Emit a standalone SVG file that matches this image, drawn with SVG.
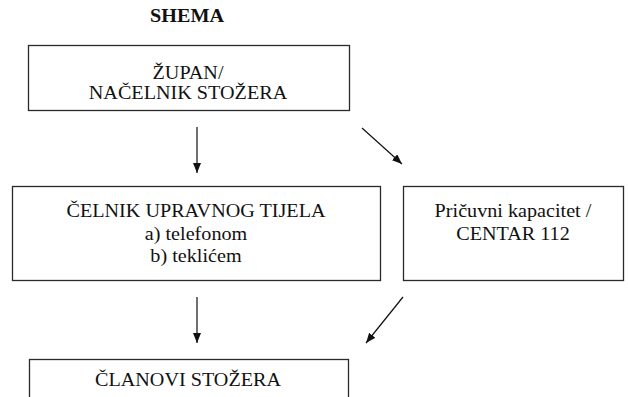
<svg xmlns="http://www.w3.org/2000/svg" width="628" height="397" viewBox="0 0 628 397">
  <style>
    .box { fill: #ffffff; stroke: #2a2a2a; stroke-width: 1.3; }
    .conn { stroke: #111; stroke-width: 1.2; fill: none; marker-end: url(#arrow); }
  </style>
  <defs>
    <marker id="arrow" markerUnits="userSpaceOnUse" markerWidth="11" markerHeight="9" refX="10" refY="4" orient="auto">
      <path d="M0,0 L10,4 L0,8 Z" fill="#111"/>
    </marker>
  </defs>
  <rect width="628" height="397" fill="#ffffff"/>

  <g font-family="Liberation Serif, Times New Roman, serif" font-size="18" fill="#111" text-anchor="middle">
    <text font-weight="bold" transform="translate(187,22) scale(1.12,1)">SHEMA</text>

    <g id="zupan">
      <rect class="box" x="28.5" y="45.5" width="321" height="65"/>
      <text transform="translate(188,79) scale(1.12,1)">ŽUPAN/</text>
      <text transform="translate(188,99) scale(1.12,1)">NAČELNIK STOŽERA</text>
    </g>

    <g id="celnik">
      <rect class="box" x="12.5" y="186.5" width="368" height="94"/>
      <text transform="translate(196,217) scale(1.12,1)">ČELNIK UPRAVNOG TIJELA</text>
      <text transform="translate(196,240) scale(1.12,1)">a) telefonom</text>
      <text transform="translate(196,262) scale(1.12,1)">b) teklićem</text>
    </g>

    <g id="pricuvni">
      <rect class="box" x="403.5" y="186.5" width="220" height="94"/>
      <text transform="translate(513,217) scale(1.12,1)">Pričuvni kapacitet /</text>
      <text transform="translate(513,240) scale(1.12,1)">CENTAR 112</text>
    </g>

    <g id="clanovi">
      <rect class="box" x="29.5" y="359.5" width="319" height="60"/>
      <text transform="translate(188,386) scale(1.12,1)">ČLANOVI STOŽERA</text>
    </g>
  </g>

  <g id="connectors">
    <line class="conn" x1="197" y1="127" x2="197" y2="173"/>
    <line class="conn" x1="362" y1="128" x2="402" y2="164"/>
    <line class="conn" x1="197" y1="297" x2="197" y2="343"/>
    <line class="conn" x1="403" y1="297" x2="366" y2="343"/>
  </g>
</svg>
